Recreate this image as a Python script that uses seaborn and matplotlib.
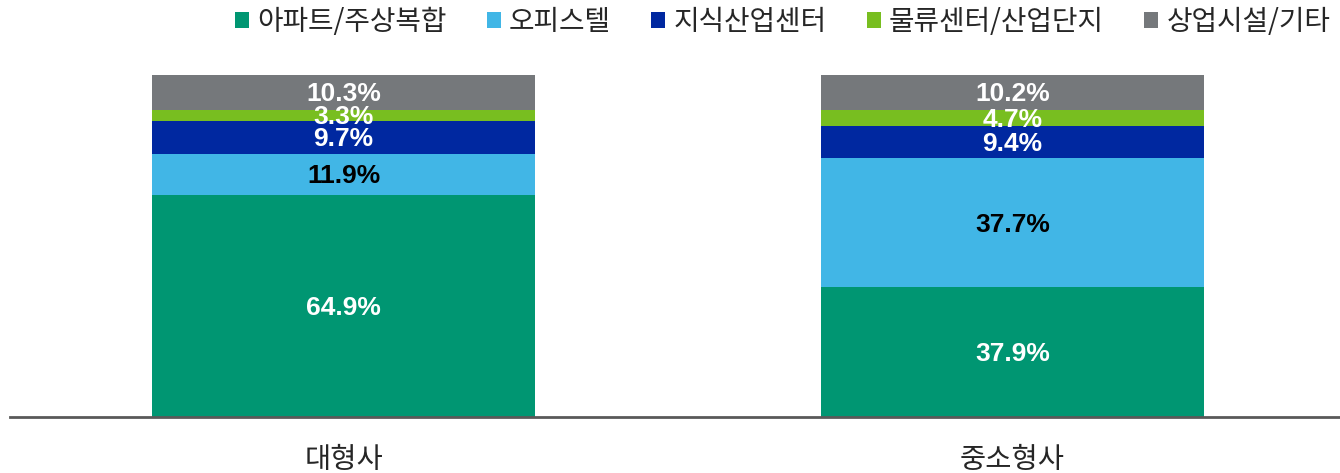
import numpy as np
import seaborn as sns
import matplotlib.pyplot as plt
from matplotlib.patches import Patch

# 데이터
categories = ['대형사', '중소형사']
series_names = ['아파트/주상복합', '오피스텔', '지식산업센터', '물류센터/산업단지', '상업시설/기타']
apt = [64.9, 37.9]
officetel = [11.9, 37.7]
knowledge = [9.7, 9.4]
logistics = [3.3, 4.7]
commercial = [10.3, 10.2]

colors = ['#009672', '#41B6E6', '#0028A0', '#78BE20', '#75787B']
label_colors = ['white', 'black', 'white', 'white', 'white']

sns.set_style('white')
plt.rcParams['font.family'] = ['Liberation Sans', 'Noto Sans CJK KR', 'DejaVu Sans']

fig = plt.figure(figsize=(13.4, 4.73), dpi=100)
ax = fig.add_axes([10 / 1340, 56 / 473, 1330 / 1340, 342 / 473])

bottoms = np.zeros(len(categories))
for vals, c, lc in zip([apt, officetel, knowledge, logistics, commercial], colors, label_colors):
    vals = np.array(vals)
    sns.barplot(x=categories, y=vals, bottom=bottoms, color=c, width=0.573,
                saturation=1, linewidth=0, ax=ax)
    for i, v in enumerate(vals):
        ax.text(i, bottoms[i] + v / 2 - 0.5, f'{v:.1f}%', ha='center', va='center',
                color=lc, fontsize=19, fontweight='bold', family='Liberation Sans')
    bottoms += vals

ax.set_xlim(-0.4985, 1.4895)
ax.set_ylim(0, 100)
for s in ['top', 'right', 'left']:
    ax.spines[s].set_visible(False)
ax.spines['bottom'].set_color('#595959')
ax.spines['bottom'].set_linewidth(2)
ax.set_yticks([])
ax.tick_params(axis='x', length=0, pad=20, labelsize=20.5)
for t in ax.get_xticklabels():
    t.set_family(['Noto Sans CJK KR'])
ax.set_xlabel('')
ax.set_ylabel('')

handles = [Patch(facecolor=c, edgecolor='none') for c in colors]
fig.legend(handles, series_names, loc='center right', bbox_to_anchor=(1.003, 1 - 22 / 473),
           ncol=5, frameon=False, handlelength=0.5, handleheight=0.5, handletextpad=0.3,
           columnspacing=1.45, borderaxespad=0.1, prop={'family': 'Noto Sans CJK KR', 'size': 20})

fig.savefig('out.png', dpi=100)
